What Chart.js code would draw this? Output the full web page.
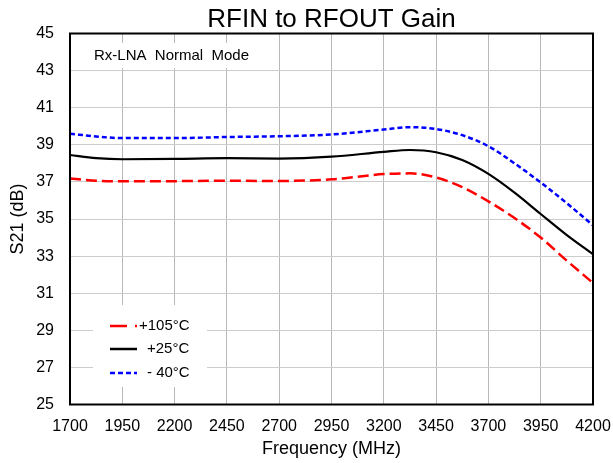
<!DOCTYPE html>
<html lang="en">
<head>
    <meta charset="UTF-8">
    <title>RFIN to RFOUT Gain</title>
    <script src="https://cdn.jsdelivr.net/npm/chart.js"></script>
    <style>
        html, body { margin: 0; padding: 0; background: #fff; }
        canvas { display: block; }
    </style>
</head>
<body>
    <canvas id="gainChart" width="613" height="463"></canvas>
    <script>
        // values
        const freqMHz = [1700, 1825, 1950, 2200, 2450, 2700, 2950, 3200, 3325, 3450, 3575, 3700, 3825, 3950, 4075, 4200];
        const gainHot  = [37.18, 37.06, 37.03, 37.04, 37.06, 37.05, 37.14, 37.42, 37.46, 37.24, 36.72, 35.95, 35.05, 34.00, 32.75, 31.55];
        const gainRoom = [38.45, 38.28, 38.22, 38.24, 38.28, 38.26, 38.36, 38.62, 38.72, 38.60, 38.18, 37.43, 36.42, 35.27, 34.13, 33.10];
        const gainCold = [39.60, 39.45, 39.36, 39.36, 39.42, 39.46, 39.56, 39.82, 39.95, 39.85, 39.52, 38.92, 38.00, 36.97, 35.85, 34.66];
        const seriesNames = ['+105°C', '+25°C', '- 40°C'];
        const xTicks = [1700, 1950, 2200, 2450, 2700, 2950, 3200, 3450, 3700, 3950, 4200];
        const yTicks = [25, 27, 29, 31, 33, 35, 37, 39, 41, 43, 45];

        const FONT = 'Arial, "Liberation Sans", sans-serif';
        const toPoints = vals => freqMHz.map((f, i) => ({ x: f, y: vals[i] }));

        // title, note box, legend box and frame
        const decorations = {
            id: 'decorations',
            afterDatasetsDraw(chart) {
                const { ctx, chartArea: a } = chart;
                ctx.save();

                // title
                ctx.fillStyle = '#000';
                ctx.font = '26px ' + FONT;
                ctx.textAlign = 'center';
                ctx.textBaseline = 'alphabetic';
                ctx.fillText('RFIN to RFOUT Gain', (a.left + a.right) / 2, 27);

                // note
                ctx.fillStyle = '#fff';
                ctx.fillRect(88, 43, 162, 25);
                ctx.fillStyle = '#000';
                ctx.font = '15px ' + FONT;
                ctx.textAlign = 'left';
                ctx.textBaseline = 'middle';
                ctx.fillText('Rx-LNA  Normal  Mode', 94, 56);

                // legend
                ctx.fillStyle = '#fff';
                ctx.fillRect(93, 305, 114, 82);
                const items = [
                    { y: 326, color: '#ff0000', dash: [17, 8, 2, 100], tx: 139 },
                    { y: 349, color: '#000000', dash: [], tx: 147 },
                    { y: 373, color: '#0000ff', dash: [5, 3], tx: 147 }
                ];
                items.forEach((it, i) => {
                    ctx.beginPath();
                    ctx.setLineDash(it.dash);
                    ctx.strokeStyle = it.color;
                    ctx.lineWidth = 2.5;
                    ctx.moveTo(110, it.y);
                    ctx.lineTo(137, it.y);
                    ctx.stroke();
                    ctx.setLineDash([]);
                    ctx.fillStyle = '#000';
                    ctx.font = '15px ' + FONT;
                    ctx.fillText(seriesNames[i], it.tx, it.y);
                });

                // frame
                ctx.strokeStyle = '#000';
                ctx.lineWidth = 2;
                ctx.strokeRect(a.left, a.top, a.right - a.left, a.bottom - a.top);
                ctx.restore();
            }
        };

        const ctx = document.getElementById('gainChart').getContext('2d');
        new Chart(ctx, {
            type: 'line',
            data: {
                datasets: [
                    {
                        label: seriesNames[0],
                        data: toPoints(gainHot),
                        borderColor: '#ff0000',
                        borderWidth: 2.5,
                        borderDash: [11, 5]
                    },
                    {
                        label: seriesNames[1],
                        data: toPoints(gainRoom),
                        borderColor: '#000000',
                        borderWidth: 2.2
                    },
                    {
                        label: seriesNames[2],
                        data: toPoints(gainCold),
                        borderColor: '#0000ff',
                        borderWidth: 2.5,
                        borderDash: [5, 3]
                    }
                ]
            },
            options: {
                responsive: false,
                animation: false,
                events: [],
                layout: { padding: { top: 33.5, right: 20, left: 0, bottom: 0 } },
                elements: {
                    point: { radius: 0 },
                    line: { cubicInterpolationMode: 'monotone', fill: false }
                },
                plugins: {
                    legend: { display: false },
                    title: { display: false },
                    tooltip: { enabled: false }
                },
                scales: {
                    x: {
                        type: 'linear',
                        min: 1700,
                        max: 4200,
                        afterBuildTicks: s => { s.ticks = xTicks.map(v => ({ value: v })); },
                        afterFit: s => {
                            s.height = 58.5;
                            s.paddingLeft = 0;
                            s.paddingRight = 0;
                        },
                        grid: { color: '#b8b8b8', lineWidth: 1, drawTicks: false },
                        border: { display: false },
                        ticks: {
                            color: '#000',
                            padding: 12,
                            maxRotation: 0,
                            font: { family: FONT, size: 16 },
                            callback: v => String(v)
                        },
                        title: {
                            display: true,
                            text: 'Frequency (MHz)',
                            color: '#000',
                            padding: { top: 0, bottom: 3 },
                            font: { family: FONT, size: 18 }
                        }
                    },
                    y: {
                        min: 25,
                        max: 45,
                        afterBuildTicks: s => { s.ticks = yTicks.map(v => ({ value: v })); },
                        afterFit: s => { s.width = 70; },
                        grid: { color: '#cccccc', lineWidth: 1, drawTicks: false },
                        border: { display: false },
                        ticks: { color: '#000', padding: 16, font: { family: FONT, size: 16 } },
                        title: {
                            display: true,
                            text: 'S21 (dB)',
                            color: '#000',
                            padding: { top: 7, bottom: 0 },
                            font: { family: FONT, size: 18 }
                        }
                    }
                }
            },
            plugins: [decorations]
        });
    </script>
</body>
</html>
